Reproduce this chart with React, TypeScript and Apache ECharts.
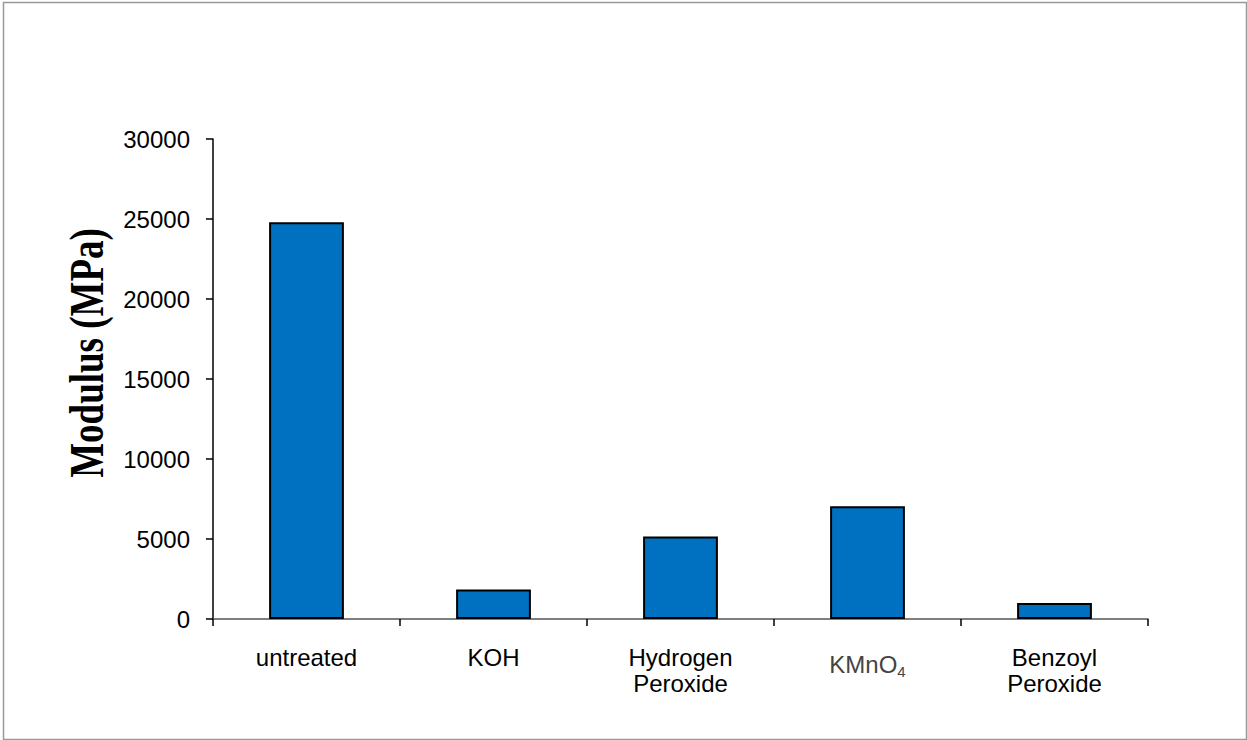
import React, { useEffect, useRef } from "react";
import * as echarts from "echarts";

const categories = ["untreated", "KOH", "Hydrogen\nPeroxide", "KMnO4", "Benzoyl\nPeroxide"];
const modulus = [24800, 1850, 5150, 7050, 1000];
const yTicks = { min: 0, max: 30000, interval: 5000 };
const yAxisTitle = "Modulus (MPa)";

export default function App() {
  const ref = useRef<HTMLDivElement>(null);
  useEffect(() => {
    const chart = echarts.init(ref.current!, null, { renderer: "svg" });
    chart.setOption({
      animation: false,
      backgroundColor: "#fff",
      graphic: [
        {
          type: "rect",
          left: 1,
          top: 0,
          shape: { x: 1.5, y: 0.5, width: 1243, height: 737 },
          style: { fill: "none", stroke: "#999", lineWidth: 1.5 },
          silent: true,
        },
        {
          type: "text",
          x: 87,
          y: 353,
          rotation: Math.PI / 2,
          scaleY: 1.3,
          style: {
            text: yAxisTitle,
            fontFamily: "Liberation Serif",
            fontWeight: "bold",
            fontSize: 37,
            fill: "#000",
            textAlign: "center",
            textVerticalAlign: "middle",
          },
          silent: true,
        },
      ],
      grid: { left: 213, right: 99, top: 139, bottom: 121 },
      xAxis: {
        type: "category",
        data: categories,
        boundaryGap: true,
        axisLine: { show: true, lineStyle: { color: "#555", width: 1.5 } },
        axisTick: { show: true, length: 7, alignWithLabel: false, lineStyle: { color: "#000", width: 1.5 } },
        axisLabel: {
          interval: 0,
          margin: 25,
          fontFamily: "Liberation Sans",
          fontSize: 24,
          lineHeight: 26,
          color: "#000",
          formatter: (v: string) => (v === "KMnO4" ? "{k|KMnO}{s|4}" : v),
          rich: {
            k: { fontSize: 24, color: "#444", fontFamily: "Liberation Sans", lineHeight: 40 },
            s: { fontSize: 15, color: "#444", fontFamily: "Liberation Sans", lineHeight: 26, padding: [14, 0, 0, 0] },
          },
        },
        splitLine: { show: false },
      },
      yAxis: {
        type: "value",
        min: yTicks.min,
        max: yTicks.max,
        interval: yTicks.interval,
        axisLine: { show: true, lineStyle: { color: "#000", width: 1.5 } },
        axisTick: { show: true, length: 7, lineStyle: { color: "#000", width: 1.5 } },
        axisLabel: {
          margin: 23,
          fontFamily: "Liberation Sans",
          fontSize: 24,
          color: "#000",
          formatter: (v: number) => String(v),
        },
        splitLine: { show: false },
      },
      series: [
        {
          type: "bar",
          data: modulus,
          barWidth: "40%",
          itemStyle: { color: "#0070C0", borderColor: "#000", borderWidth: 2 },
        },
      ],
    });
    return () => chart.dispose();
  }, []);
  return (
    <div
      ref={ref}
      style={{ position: "fixed", left: 0, top: 0, width: 1247, height: 740 }}
    />
  );
}
